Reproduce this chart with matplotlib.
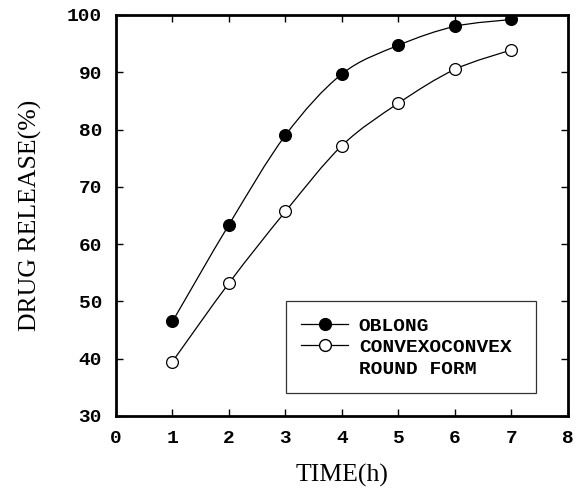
import numpy as np
import matplotlib.pyplot as plt
from matplotlib.path import Path
from matplotlib.patches import PathPatch
from matplotlib.lines import Line2D

# Data
time_h = [1, 2, 3, 4, 5, 6, 7]
oblong = [46.5, 63.4, 79.0, 89.7, 94.7, 98.0, 99.2]
convexo = [39.5, 53.2, 65.7, 77.2, 84.6, 90.5, 93.9]
labels = ['OBLONG', 'CONVEXOCONVEX', 'ROUND FORM']

tick_font = {'family': 'Liberation Mono', 'weight': 'bold', 'size': 14}
label_font = {'family': 'Liberation Serif', 'size': 18.5}


def smooth_path(x, y):
    # Catmull-Rom through the points, drawn as cubic bezier segments
    x = np.asarray(x, float)
    y = np.asarray(y, float)
    pts = np.column_stack([x, y])
    verts = [pts[0]]
    codes = [Path.MOVETO]
    n = len(pts)
    for i in range(n - 1):
        p0 = pts[i - 1] if i > 0 else pts[i]
        p1 = pts[i]
        p2 = pts[i + 1]
        p3 = pts[i + 2] if i + 2 < n else pts[i + 1]
        c1 = p1 + (p2 - p0) / 6.0
        c2 = p2 - (p3 - p1) / 6.0
        verts += [c1, c2, p2]
        codes += [Path.CURVE4] * 3
    return Path(verts, codes)


fig = plt.figure(figsize=(5.82, 4.97), dpi=100)
ax = fig.add_axes([0.1993, 0.163, 0.7766, 0.807])

for ys, face in [(oblong, 'black'), (convexo, 'white')]:
    ax.add_patch(PathPatch(smooth_path(time_h, ys), facecolor='none',
                           edgecolor='black', lw=0.9, zorder=2))
    ax.plot(time_h, ys, 'o', ms=8.5, mfc=face, mec='black', mew=0.9, zorder=3)

ax.set_xlim(0, 8)
ax.set_ylim(30, 100)
ax.set_xticks(range(0, 9))
ax.set_yticks(range(30, 101, 10))
ax.tick_params(direction='in', top=True, right=True, length=5, width=1, pad=10)
for lab in ax.get_xticklabels() + ax.get_yticklabels():
    lab.set_fontproperties(tick_font)
for s in ax.spines.values():
    s.set_linewidth(2)

ax.set_xlabel('TIME(h)', fontdict=label_font, labelpad=12)
ax.set_ylabel('DRUG RELEASE(%)', fontdict=label_font, labelpad=18)

handles = [
    Line2D([], [], color='black', lw=0.9, marker='o', ms=8.5, mfc='black', mec='black'),
    Line2D([], [], color='black', lw=0.9, marker='o', ms=8.5, mfc='white', mec='black'),
    Line2D([], [], color='none'),
]
leg = ax.legend(handles, labels, loc='lower left', mode='expand',
                bbox_to_anchor=(0.376, 0.057, 0.553, 0.24), borderaxespad=0,
                prop={'family': 'Liberation Mono', 'weight': 'bold', 'size': 14},
                frameon=True, fancybox=False, handlelength=2.4, handletextpad=0.55,
                borderpad=0.8, labelspacing=0.2)
leg.get_frame().set_edgecolor('black')
leg.get_frame().set_linewidth(0.9)

fig.savefig('out.png', dpi=100)
